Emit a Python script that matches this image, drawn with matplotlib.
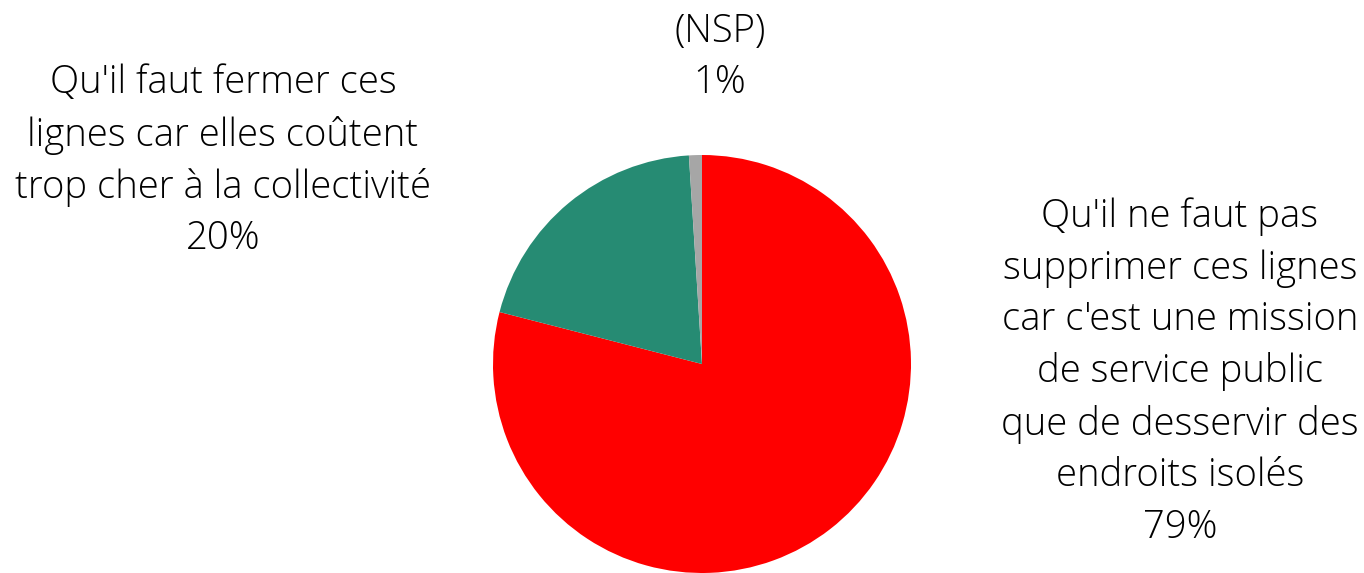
import matplotlib
matplotlib.use("Agg")
import matplotlib.pyplot as plt

labels = ["Qu'il ne faut pas\nsupprimer ces lignes\ncar c'est une mission\nde service public\nque de desservir des\nendroits isolés",
          "Qu'il faut fermer ces\nlignes car elles coûtent\ntrop cher à la collectivité",
          "(NSP)"]
values = [79, 20, 1]
colors = ["#ff0000", "#268b73", "#a6a6a6"]

W, H = 1364, 573
fig = plt.figure(figsize=(W / 100, H / 100), dpi=100)
ax = fig.add_axes([0, 0, 1, 1])

ax.pie(values, colors=colors, startangle=90, counterclock=False,
       center=(702, H - 364), radius=209, frame=True,
       wedgeprops=dict(linewidth=0))
ax.set_xlim(0, W)
ax.set_ylim(0, H)
ax.set_aspect("equal")
ax.axis("off")

font = dict(family=["Open Sans", "DejaVu Sans"], fontweight="light", fontsize=27.5,
            color="#000000", ha="center", va="center", linespacing=1.44)
pos = [(1180, H - 372), (223, H - 161), (720, H - 57)]
for lab, v, (x, y) in zip(labels, values, pos):
    ax.text(x, y, f"{lab}\n{v}%", **font)

fig.savefig("out.png", dpi=100)
